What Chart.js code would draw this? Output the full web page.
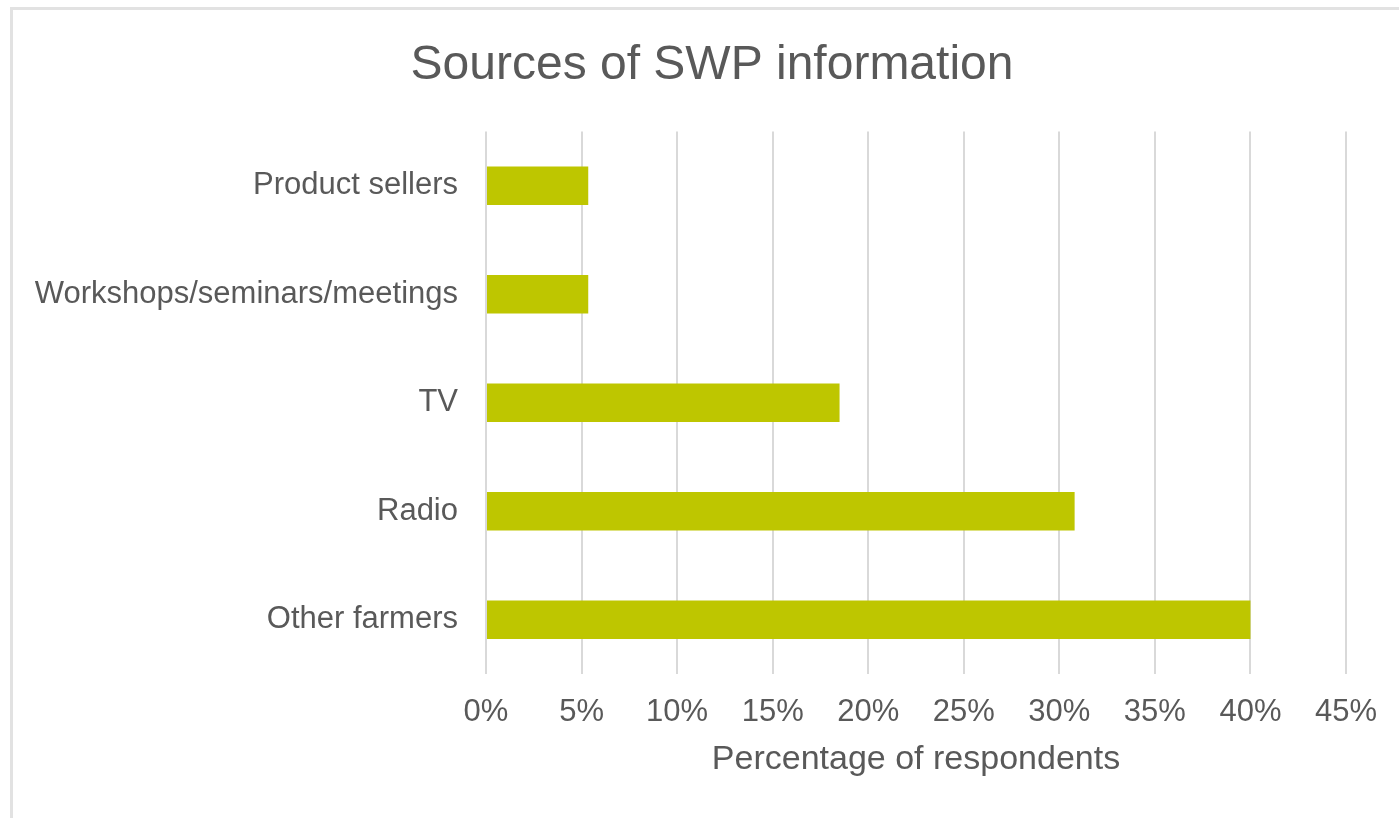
<!DOCTYPE html>
<html>
<head>
<meta charset="utf-8">
<title>Sources of SWP information</title>
<script src="https://cdn.jsdelivr.net/npm/chart.js@4/dist/chart.umd.min.js"></script>
<style>
  html, body {
    margin: 0;
    padding: 0;
    background: #ffffff;
    overflow: hidden;
  }
  .frame {
    position: absolute;
    left: 10px;
    top: 7px;
    width: 1500px;
    height: 900px;
    border: 3px solid #e2e2e2;
  }
  #sources-chart {
    position: absolute;
    left: 0;
    top: 0;
  }
</style>
</head>
<body>
<div class="frame"></div>
<canvas id="sources-chart" width="1425" height="818"></canvas>
<script>
// categories top to bottom
const sources = ["Product sellers", "Workshops/seminars/meetings", "TV", "Radio",
  "Other farmers"];

// share of respondents, in percent
const respondentShare = [5.35, 5.35, 18.5, 30.8, 40.0];

// x axis ticks
const percentTicks = [0, 5, 10, 15, 20, 25, 30, 35, 40, 45];

const textGrey = '#595959';
Chart.defaults.font.family = "'Liberation Sans', Arial, sans-serif";
Chart.defaults.color = textGrey;

const sourcesCanvas = document.getElementById('sources-chart');

const sourcesData = {
  labels: sources,
  datasets: [{
    label: 'Percentage of respondents',
    data: respondentShare,
    backgroundColor: '#bec600',
    borderWidth: 0,
    categoryPercentage: 1,
    barPercentage: 0.355
  }]
};

// the left padding pushes the title right; let the long category
// labels spill into that padding instead of being clipped
const wideLabels = {
  id: 'wideLabels',
  afterLayout: (chart) => {
    chart.scales.y.left = 0;
  }
};

const sourcesOptions = {
  indexAxis: 'y',
  responsive: false,
  animation: false,
  layout: {
    padding: { left: 78, right: 79, top: 0, bottom: 0 }
  },
  scales: {
    x: {
      min: percentTicks[0],
      max: percentTicks[percentTicks.length - 1],
      afterBuildTicks: (scale) => {
        scale.ticks = percentTicks.map(v => ({ value: v }));
      },
      afterFit: (scale) => {
        scale.height = 144;
      },
      ticks: {
        callback: (value) => value + '%',
        font: { size: 31 },
        color: textGrey,
        padding: 20,
        maxRotation: 0
      },
      grid: {
        color: '#d9d9d9',
        lineWidth: 2,
        drawTicks: false
      },
      border: { display: false },
      title: {
        display: true,
        text: 'Percentage of respondents',
        font: { size: 34 },
        color: textGrey,
        padding: { top: 0, bottom: 38 }
      }
    },
    y: {
      afterFit: (scale) => {
        scale.width = 408;
      },
      ticks: {
        font: { size: 31 },
        color: textGrey,
        padding: 20
      },
      grid: { display: false },
      border: { display: false }
    }
  },
  plugins: {
    legend: { display: false },
    tooltip: { enabled: false },
    title: {
      display: true,
      text: 'Sources of SWP information',
      font: { size: 48, weight: 'normal' },
      color: textGrey,
      padding: { top: 37, bottom: 37 }
    }
  }
};

let sourcesChart = new Chart(sourcesCanvas, {
  type: 'bar',
  data: sourcesData,
  options: sourcesOptions,
  plugins: [wideLabels]
});
</script>
</body>
</html>
